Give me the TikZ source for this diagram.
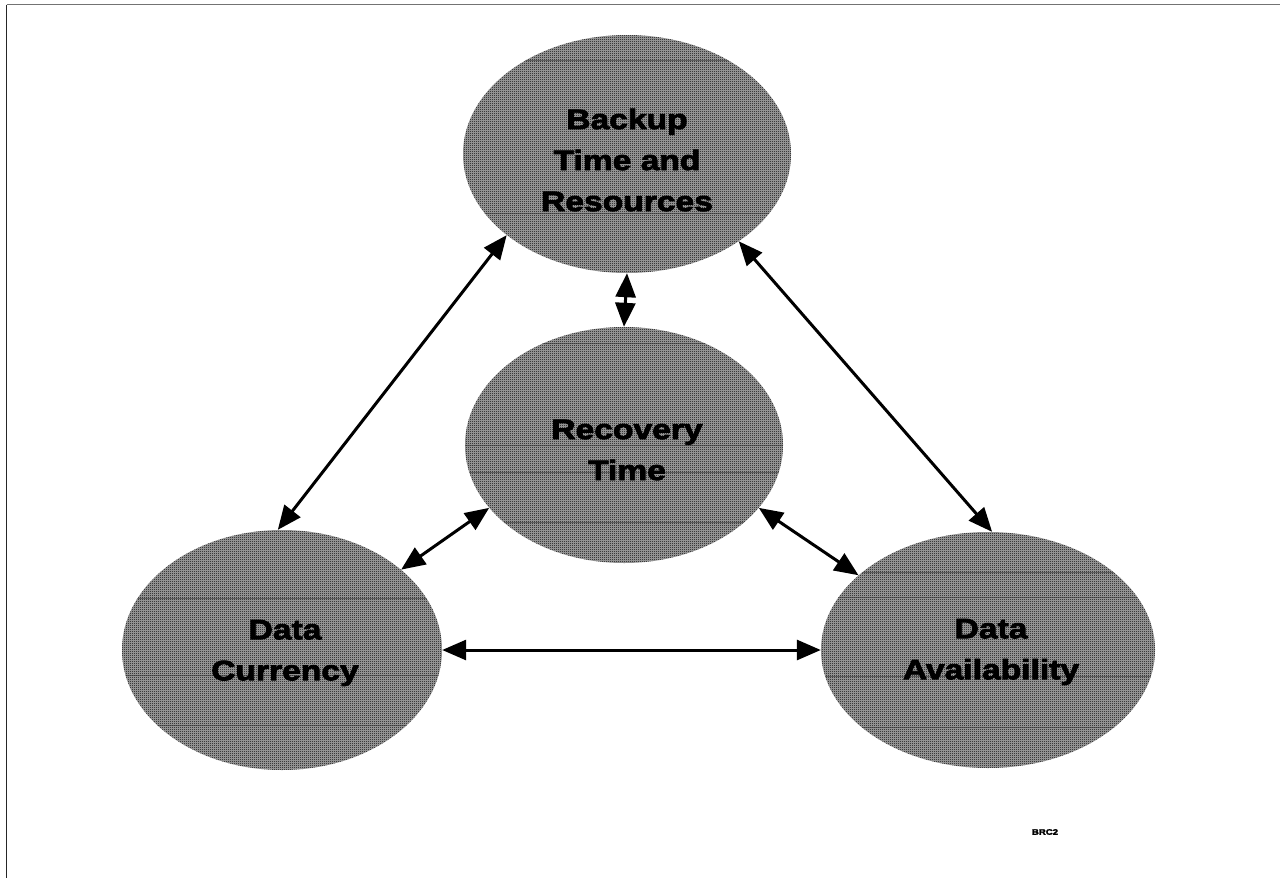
\documentclass[tikz,border=0pt]{standalone}
\usepackage{fontspec}
\usetikzlibrary{shapes.geometric,arrows.meta,patterns}
\newfontfamily\lblfont{Liberation Sans}[FakeStretch=1.2, BoldFeatures={FakeBold=3}]
\definecolor{streakgray}{gray}{0.2}
\definecolor{blobbase}{gray}{0.66}

% one-pixel checkerboard used as the shading of the ellipses
\pgfdeclarepatternformonly{checker}{\pgfpointorigin}{\pgfpoint{2pt}{2pt}}{\pgfpoint{2pt}{2pt}}{%
  \pgfpathrectangle{\pgfpointorigin}{\pgfpoint{1pt}{1pt}}%
  \pgfpathrectangle{\pgfpoint{1pt}{1pt}}{\pgfpoint{1pt}{1pt}}%
  \pgfusepath{fill}}

\tikzset{
  blob/.style={ellipse, draw=none, preaction={fill=blobbase}, pattern=checker,
               pattern color=black, inner sep=0pt},
  streaks/.style={path picture={
      \foreach \d in {#1}
        \draw[streakgray, line width=1pt, opacity=0.55]
          ([yshift={-(\d)*1pt}]path picture bounding box.west) --
          ([yshift={-(\d)*1pt}]path picture bounding box.east);}},
  lbl/.style={font=\lblfont\bfseries\fontsize{28}{41}\selectfont,
              align=center, text=black, inner sep=0pt},
  link/.style={line width=3pt,
               {Triangle[length=24pt,width=20pt]}-{Triangle[length=24pt,width=20pt]}},
}

\begin{document}
\begin{tikzpicture}[x=1pt,y=-1pt]
  \useasboundingbox (0,0) rectangle (1280,878);
  \fill[white] (0,0) rectangle (1280,878);

  % frame edges
  \draw[black!85, line width=1.6pt] (6.5,4.5) -- (6.5,878);
  \draw[black!55, line width=1.6pt] (6.5,4.5) -- (1280,4.5);

  % the four shaded ellipses
  \node[blob, streaks={-94,59}, minimum width=328pt, minimum height=238pt] (bk) at (627,154) {};
  \node[blob, streaks={-102,0,27,77}, minimum width=318pt, minimum height=236pt] (rt) at (624,445) {};
  \node[blob, streaks={-52,25,75}, minimum width=320pt, minimum height=240pt] (dc) at (282,650) {};
  \node[blob, streaks={-78,-53,26,77}, minimum width=334pt, minimum height=236pt] (da) at (988,650) {};

  % labels
  \node[lbl] (bkT) at (627,160) {Backup\\Time and\\Resources};
  \node[lbl] (rtT) at (627,450) {Recovery\\Time};
  \node[lbl] (dcT) at (285,653) {Data\\Currency};
  \node[lbl] (daT) at (991,652) {Data\\Availability};

  % two-way connectors
  \draw[link] (bk.214) -- (dc.92);
  \draw[link] (bk.322) -- (da.88);
  \draw[link] (bk.south) -- (rt.north);
  \draw[link] (rt.205) -- (dc.34);
  \draw[link] (rt.335) -- (da.150);
  \draw[link] (dc.east) -- (da.west);

  % figure tag
  \node[font=\lblfont\bfseries\fontsize{8}{8}\selectfont, inner sep=0pt] (tag) at (1045,832) {BRC2};
\end{tikzpicture}
\end{document}
